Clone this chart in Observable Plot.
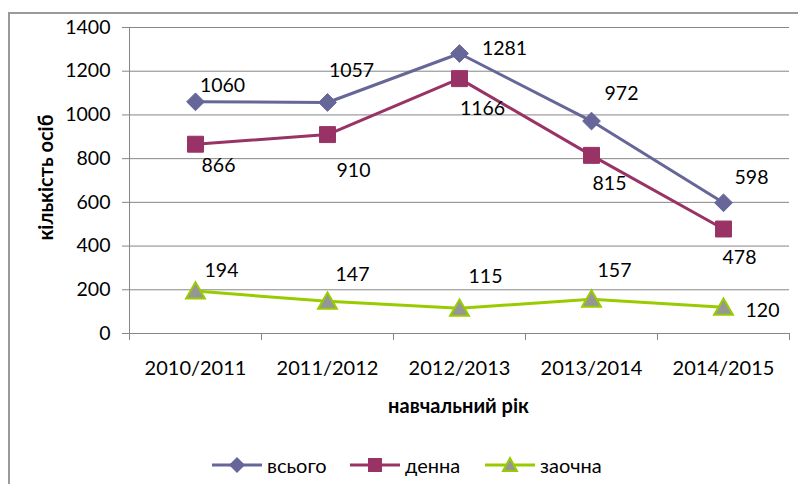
<!DOCTYPE html>
<html>
<head>
<meta charset="utf-8">
<script src="https://cdn.jsdelivr.net/npm/d3@7"></script>
<script src="https://cdn.jsdelivr.net/npm/@observablehq/plot@0.6"></script>
<style>
  html, body { margin: 0; padding: 0; background: #fff; }
  body { position: relative; width: 798px; height: 484px; overflow: hidden; font-family: Lato, "Open Sans", sans-serif; }
  #frame { position: absolute; left: 8px; top: 12px; width: 820px; height: 500px; border: 2px solid #9a9a9a; box-sizing: border-box; }
  #chart { position: absolute; left: 0; top: 0; }
  #legend { position: absolute; top: 454px; left: 0; width: 798px; height: 22px; font-size: 20px; color: #000; }
  .item { position: absolute; top: 0; display: flex; align-items: center; height: 22px; }
  .item svg { margin-right: 5px; }
</style>
</head>
<body>
<div id="frame"></div>
<div id="chart"></div>
<div id="legend"></div>
<script>
// ---- data ----
const years = ["2010/2011", "2011/2012", "2012/2013", "2013/2014", "2014/2015"];
const seriesNames = ["всього", "денна", "заочна"];
const total = [1060, 1057, 1281, 972, 598];
const day = [866, 910, 1166, 815, 478];
const extramural = [194, 147, 115, 157, 120];
const yTicks = [0, 200, 400, 600, 800, 1000, 1200, 1400];

// label offsets (pixels, relative to the point) – layout only
const totalLabelOffsets = [[27, -16], [24, -32], [45, -5], [30, -27], [28, -25]];
const dayLabelOffsets = [[23, 22], [26, 36], [23, 30], [18, 28], [16, 29]];
const extLabelOffsets = [[26, -20], [25, -27], [26, -32], [23, -28], [39, 3]];

const styles = [
  {values: total, offsets: totalLabelOffsets, stroke: "#666699", fill: "#666699", symbol: "diamond2", r: 8, sw: 1},
  {values: day, offsets: dayLabelOffsets, stroke: "#993366", fill: "#993366", symbol: "square", r: 9, sw: 1},
  {values: extramural, offsets: extLabelOffsets, stroke: "#99CC00", fill: "#969696", symbol: "triangle", r: 7, sw: 2}
];

const font = "Lato, 'Open Sans', sans-serif";
const boundaries = d3.range(years.length + 1).map(i => i - 0.5);

const marks = [
  Plot.gridY(yTicks, {stroke: "#868686", strokeOpacity: 1, strokeWidth: 1}),
  Plot.ruleX([-0.5], {stroke: "#868686", strokeWidth: 1}),
  Plot.axisY({ticks: yTicks, tickSize: 7, tickPadding: 12, tickFormat: d => String(d), stroke: "#868686", fill: "#000", fontSize: 19.5, label: null}),
  Plot.axisX({ticks: boundaries, tickSize: 7, tickFormat: () => null, stroke: "#868686", label: null}),
  Plot.axisX({ticks: d3.range(years.length), tickSize: 0, tickPadding: 27, tickFormat: i => years[i], fill: "#000", fontSize: 20, label: null}),
  Plot.text(["кількість осіб"], {frameAnchor: "left", rotate: -90, dx: -83, dy: -3, textAnchor: "middle", lineAnchor: "middle", fontWeight: "bold", fontSize: 20, fill: "#000"}),
  Plot.text(["навчальний рік"], {frameAnchor: "bottom", dy: 73, dx: -1, textAnchor: "middle", lineAnchor: "middle", fontWeight: "bold", fontSize: 20, fill: "#000"})
];

styles.forEach(s => {
  const data = s.values.map((v, i) => ({i, v}));
  marks.push(Plot.line(data, {x: "i", y: "v", stroke: s.stroke, strokeWidth: 3}));
  marks.push(Plot.dot(data, {x: "i", y: "v", symbol: s.symbol, r: s.r, fill: s.fill, stroke: s.stroke, strokeWidth: s.sw, dy: s.symbol === "triangle" ? 2 : 0}));
});
styles.forEach(s => {
  s.values.forEach((v, i) => {
    marks.push(Plot.text([{i, v}], {x: "i", y: "v", text: d => String(d.v), dx: s.offsets[i][0], dy: s.offsets[i][1], fontSize: 19.5, fill: "#000", textAnchor: "middle", lineAnchor: "middle"}));
  });
});

const chart = Plot.plot({
  width: 798,
  height: 445,
  marginLeft: 129,
  marginRight: 9,
  marginTop: 27,
  marginBottom: 112,
  style: {fontFamily: font, background: "transparent", overflow: "visible"},
  x: {type: "linear", domain: [-0.5, years.length - 0.5]},
  y: {domain: [0, 1400]},
  marks
});
document.getElementById("chart").appendChild(chart);

// ---- legend ----
const legendLeft = [212, 350, 485];
const legend = document.getElementById("legend");
styles.forEach((s, k) => {
  const item = document.createElement("div");
  item.className = "item";
  item.style.left = legendLeft[k] + "px";
  let marker = "";
  if (s.symbol === "diamond2") marker = `<path d="M25,3 L33,11 L25,19 L17,11 Z" fill="${s.fill}"/>`;
  else if (s.symbol === "square") marker = `<rect x="18" y="4" width="14" height="14" fill="${s.fill}"/>`;
  else marker = `<path d="M25,4 L32,17 L18,17 Z" fill="${s.fill}" stroke="${s.stroke}" stroke-width="2"/>`;
  item.innerHTML = `<svg width="50" height="22"><line x1="0" x2="50" y1="11" y2="11" stroke="${s.stroke}" stroke-width="3"/>${marker}</svg><span>${seriesNames[k]}</span>`;
  legend.appendChild(item);
});
</script>
</body>
</html>
